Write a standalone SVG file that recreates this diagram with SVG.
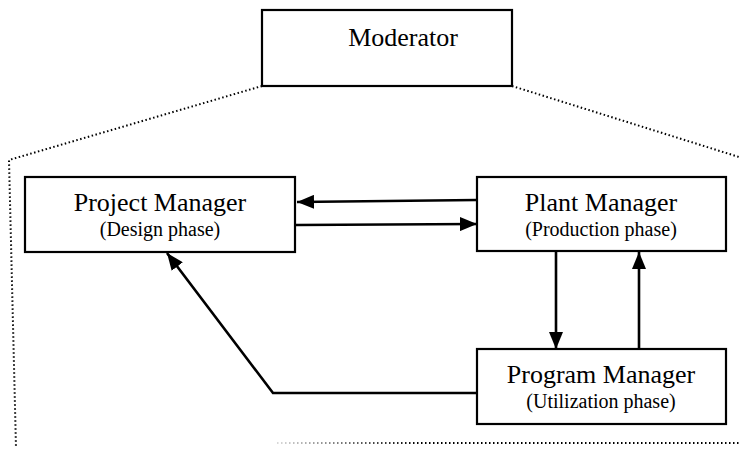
<svg xmlns="http://www.w3.org/2000/svg" width="739" height="450" viewBox="0 0 739 450">
<style>
.box{fill:#fff;stroke:#000;stroke-width:2.2}
.t1{font-family:"Liberation Serif","Times New Roman",serif;font-size:26px;fill:#000;text-anchor:middle}
.t2{font-family:"Liberation Serif","Times New Roman",serif;font-size:20px;fill:#000;text-anchor:middle}
.dot{fill:none;stroke:#000;stroke-width:2;stroke-dasharray:1.5 2.5}
.c{fill:none;stroke:#000;stroke-width:2.6}
</style>
<defs>
<marker id="ah" viewBox="0 0 17 14" refX="17" refY="7" markerWidth="17" markerHeight="14" markerUnits="userSpaceOnUse" orient="auto">
<path d="M0,0 L17,7 L0,14 Z" fill="#000"/>
</marker>
<linearGradient id="fade" x1="277" y1="0" x2="420" y2="0" gradientUnits="userSpaceOnUse">
<stop offset="0" stop-color="#000" stop-opacity="0.15"/>
<stop offset="1" stop-color="#000" stop-opacity="1"/>
</linearGradient>
</defs>
<g id="boundary">
<polyline class="dot" points="262,86 9,160 16,448"/>
<line class="dot" x1="512" y1="86" x2="739" y2="157"/>
<line x1="277" y1="443" x2="739" y2="443" fill="none" stroke="url(#fade)" stroke-width="2" stroke-dasharray="1.5 2.5"/>
</g>
<g id="moderator">
<rect class="box" x="262" y="10" width="250" height="76"/>
<text class="t1" x="403" y="46">Moderator</text>
</g>
<g id="project-manager">
<rect class="box" x="25" y="177" width="270" height="75"/>
<text class="t1" x="160" y="211">Project Manager</text>
<text class="t2" x="160" y="236">(Design phase)</text>
</g>
<g id="plant-manager">
<rect class="box" x="477" y="177" width="249" height="74"/>
<text class="t1" x="601" y="211">Plant Manager</text>
<text class="t2" x="601" y="236">(Production phase)</text>
</g>
<g id="program-manager">
<rect class="box" x="477" y="349" width="249" height="75"/>
<text class="t1" x="601" y="383">Program Manager</text>
<text class="t2" x="601" y="408">(Utilization phase)</text>
</g>
<g id="connectors">
<line class="c" x1="477" y1="200" x2="297" y2="202" marker-end="url(#ah)"/>
<line class="c" x1="296" y1="225" x2="477" y2="224" marker-end="url(#ah)"/>
<line class="c" x1="556" y1="252" x2="556" y2="349" marker-end="url(#ah)"/>
<line class="c" x1="639" y1="349" x2="639" y2="252" marker-end="url(#ah)"/>
<polyline class="c" points="477,393 273,393 167,253" marker-end="url(#ah)"/>
</g>
</svg>
